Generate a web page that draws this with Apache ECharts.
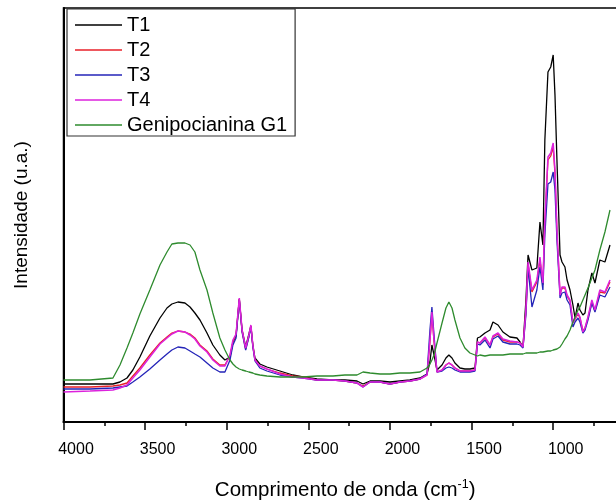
<!DOCTYPE html>
<html>
<head>
<meta charset="utf-8">
<script src="https://cdn.jsdelivr.net/npm/echarts@6/dist/echarts.min.js"></script>
<style>
html,body{margin:0;padding:0;background:#fff;}
#chart{width:616px;height:504px;}
</style>
</head>
<body>
<div id="chart"></div>
<script>
// Wavenumber (cm-1), descending
var wavenumbers = [4000,3838,3697,3654,3611,3575,3532,3471,3409,3366,
3336,3299,3256,3225,3195,3164,3121,3085,3042,3011,
2980,2962,2943,2923,2906,2884,2864,2852,2840,2827,
2797,2754,2674,2595,2533,2447,2349,2276,2202,2165,
2122,2061,2000,1939,1878,1816,1773,1755,1743,1730,
1712,1681,1657,1639,1620,1602,1571,1541,1510,1479,
1464,1449,1418,1387,1369,1338,1308,1265,1222,1203,
1185,1167,1154,1130,1100,1081,1063,1051,1032,1015,
1000,989,977,958,946,928,915,897,879,866,
848,836,818,805,787,763,744,714,683,652];

// Intensities (u.a.)
var t1 = [38,38,38,40,44,52,65,86,104,114,
118,120,119,115,109,102,89,77,67,62,
65,80,86,123,92,75,88,96,77,64,
58,55,51,47,45,43,42,42,41,38,
41,41,40,41,42,44,48,60,77,67,
52,57,64,67,64,59,54,53,53,54,
84,85,89,92,100,97,90,85,84,80,
75,122,167,152,154,200,177,282,350,355,
367,327,262,167,160,155,142,132,117,104,
119,112,107,109,132,149,139,162,160,177];

var t2 = [35,35,36,37,39,46,54,67,79,85,
89,91,90,88,84,77,71,63,57,57,
66,80,87,123,91,73,86,96,76,62,
56,53,49,46,45,42,42,41,39,36,
40,40,38,40,41,43,47,80,109,80,
50,52,57,59,57,54,51,51,51,52,
80,79,84,77,85,88,82,80,80,79,
75,111,158,130,140,162,137,200,262,266,
275,248,190,128,134,134,126,121,99,103,
108,104,91,94,104,120,111,130,129,140];

var t3 = [33,33,34,35,36,40,45,53,62,68,
72,75,74,71,68,65,59,54,50,50,
62,77,84,122,90,72,85,95,75,61,
54,51,47,45,44,42,42,41,39,35,
40,40,38,40,41,43,48,92,115,87,
50,51,54,55,54,52,50,50,50,51,
78,77,82,74,83,86,80,78,78,77,
74,107,154,115,132,155,132,187,238,240,
250,232,182,124,129,130,122,117,95,100,
104,100,89,92,102,119,110,127,125,135];

var t4 = [30,31,32,34,37,44,52,65,78,84,
88,91,90,87,83,76,70,62,56,56,
67,82,88,124,92,74,87,97,77,62,
56,53,48,45,44,42,42,41,39,35,
40,40,38,40,41,43,47,82,110,82,
50,52,57,59,57,54,51,51,51,52,
80,79,85,77,86,89,83,81,80,79,
75,112,160,132,142,165,139,202,265,269,
279,252,192,127,135,135,127,122,99,104,
109,105,90,94,105,122,112,132,130,142];

var g1 = [42,42,44,57,74,89,108,132,157,170,
178,179,179,177,170,152,132,109,84,72,
62,58,55,53,52,51,50,49,49,48,
47,46,45,45,45,46,46,47,47,50,
49,48,48,49,49,50,54,58,62,67,
79,99,114,120,114,102,84,74,69,67,
66,67,66,67,67,67,67,68,68,68,
68,69,69,69,69,70,70,70,71,71,
72,72,73,75,78,83,86,92,100,105,
112,115,122,127,134,144,152,172,190,212];

var seriesNames = ['T1','T2','T3','T4','Genipocianina G1'];
var seriesValues = [t1,t2,t3,t4,g1];
var seriesColors = ['#000000','#e82028','#2424b8','#dc22dc','#2e8b2e'];

var FONT = 'Liberation Sans, Arial, sans-serif';

function pairs(vals){
  return wavenumbers.map(function(w,i){ return [w, vals[i]]; });
}

var series = seriesNames.map(function(n,i){
  return {
    name: n,
    type: 'line',
    data: pairs(seriesValues[i]),
    symbol: 'none',
    smooth: false,
    lineStyle: {color: seriesColors[i], width: i===3 ? 1.5 : 1.3},
    itemStyle: {color: seriesColors[i]}
  };
});

var chart = echarts.init(document.getElementById('chart'), null, {renderer:'canvas'});
chart.setOption({
  animation: false,
  backgroundColor: '#ffffff',
  grid: {left: 63.5, top: 8, width: 571.3, height: 414, show: true,
         containLabel: false, outerBoundsMode: 'none',
         borderColor: '#000', borderWidth: 1.5, backgroundColor: 'transparent'},
  legend: {
    orient: 'vertical', left: 67, top: 9,
    padding: [6, 8, 1, 8],
    itemGap: 5, itemWidth: 47, itemHeight: 1.5, icon: 'rect',
    borderColor: '#333', borderWidth: 1.2, backgroundColor: '#fff',
    textStyle: {fontSize: 20, lineHeight: 20, color: '#000', fontFamily: FONT},
    data: seriesNames
  },
  xAxis: {
    type: 'value', inverse: true, min: 500, max: 4000, interval: 500,
    axisLine: {show: true, onZero: false, lineStyle: {color: '#000', width: 2}},
    axisTick: {show: true, inside: false, length: 8, lineStyle: {color: '#000', width: 1.5}},
    minorTick: {show: true, splitNumber: 2, length: 4, lineStyle: {color: '#000', width: 1.5}},
    splitLine: {show: false},
    axisLabel: {fontSize: 16, color: '#000', fontFamily: FONT, margin: 20, padding: [0,0,0,25],
      hideOverlap: false,
      formatter: function(v){ return String(v); }},
    name: 'Comprimento de onda (cm{sup|-1})',
    nameLocation: 'middle', nameGap: 56,
    nameTextStyle: {fontSize: 20.5, color: '#000', fontFamily: FONT, lineHeight: 24, padding: [0, 8, 0, 0],
      rich: {sup: {fontSize: 12.5, color: '#000', fontFamily: FONT, lineHeight: 12, verticalAlign: 'top'}}}
  },
  yAxis: {
    type: 'value', min: 0, max: 414,
    axisLine: {show: true, lineStyle: {color: '#000', width: 2}},
    axisTick: {show: false},
    axisLabel: {show: false},
    splitLine: {show: false},
    name: 'Intensidade (u.a.)',
    nameLocation: 'middle', nameGap: 32,
    nameTextStyle: {fontSize: 19, color: '#000', fontFamily: FONT}
  },
  series: series
});
</script>
</body>
</html>
